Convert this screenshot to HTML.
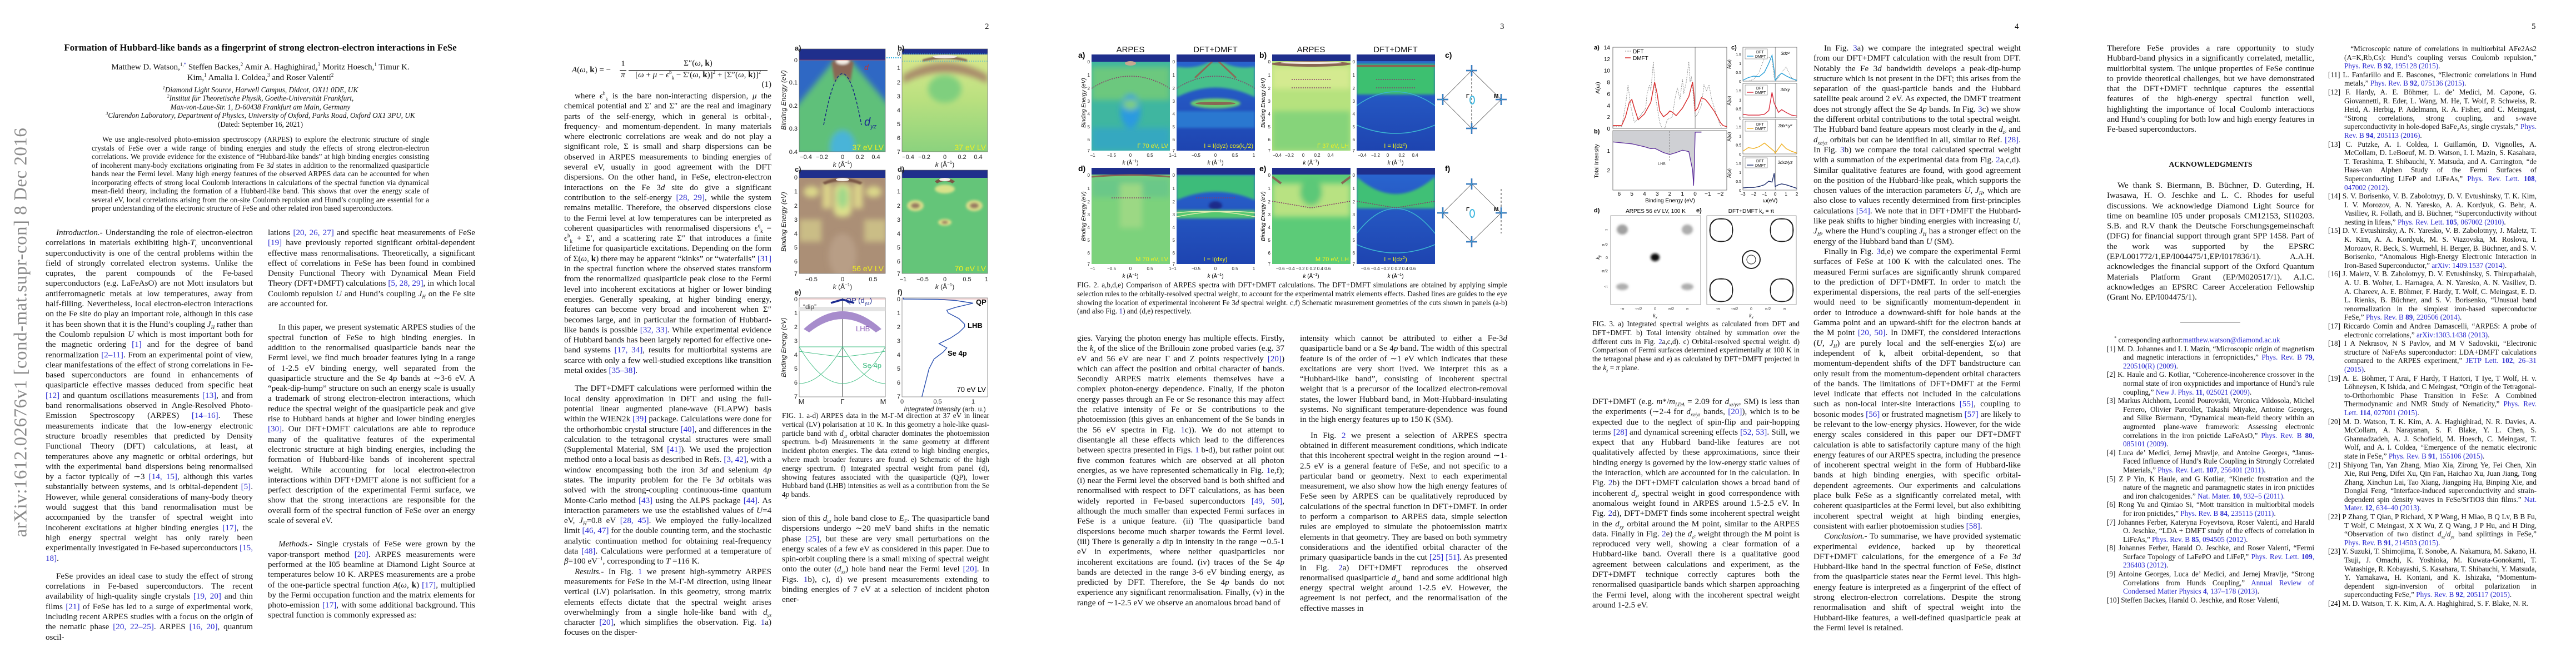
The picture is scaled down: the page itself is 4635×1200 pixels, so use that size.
<!DOCTYPE html>
<html lang="en"><head><meta charset="utf-8">
<style>
html,body{margin:0;padding:0;background:#fff;}
#root{position:relative;width:4635px;height:1200px;overflow:hidden;background:#fff;font-family:"Liberation Serif",serif;color:#111;}
.t{position:absolute;font-size:15.1px;line-height:18.3px;text-align:justify;hyphens:auto;-webkit-hyphens:auto;}
.c{width:373px;}
.t p{margin:0;text-indent:19px;}
.t p.ni{text-indent:0;}
.cap{position:absolute;font-size:13.2px;line-height:15.8px;text-align:justify;hyphens:auto;-webkit-hyphens:auto;}
.ref{position:absolute;width:375px;font-size:13.2px;line-height:15.6px;text-align:justify;hyphens:auto;-webkit-hyphens:auto;}
.ref p{margin:0;padding-left:29px;text-indent:-29px;}
.pn{position:absolute;top:40px;font-size:15px;}
a,.lk{color:#2a2ad0;text-decoration:none;}
i{font-style:italic;}
sub,sup{line-height:0;}
#fig{position:absolute;left:0;top:0;}
</style></head><body>
<div id="root">

<svg id="fig" width="4635" height="1200" font-family="Liberation Sans, sans-serif">
<defs>
<filter id="bl" x="-20%" y="-20%" width="140%" height="140%"><feGaussianBlur stdDeviation="5"/></filter>
<filter id="bl2" x="-20%" y="-20%" width="140%" height="140%"><feGaussianBlur stdDeviation="2"/></filter>
<filter id="bl3" x="-20%" y="-20%" width="140%" height="140%"><feGaussianBlur stdDeviation="1.2"/></filter>
<linearGradient id="gb" x1="0" y1="0" x2="0" y2="1"><stop offset="0" stop-color="#dde98f"/><stop offset="0.5" stop-color="#b9e07f"/><stop offset="1" stop-color="#8bd27e"/></linearGradient>
<linearGradient id="gdft" x1="0" y1="0" x2="0" y2="1"><stop offset="0" stop-color="#2a66d0"/><stop offset="1" stop-color="#1e44b0"/></linearGradient>
<clipPath id="c1a"><rect x="1438" y="88" width="155" height="185"/></clipPath>
<clipPath id="c1b"><rect x="1623" y="88" width="154" height="185"/></clipPath>
<clipPath id="c1c"><rect x="1438" y="306" width="155" height="186"/></clipPath>
<clipPath id="c1d"><rect x="1623" y="306" width="154" height="186"/></clipPath>
<clipPath id="c2a1"><rect x="1964" y="98" width="141" height="173"/></clipPath>
<clipPath id="c2a2"><rect x="2117" y="98" width="141" height="173"/></clipPath>
<clipPath id="c2b1"><rect x="2289" y="98" width="141" height="173"/></clipPath>
<clipPath id="c2b2"><rect x="2441" y="98" width="141" height="173"/></clipPath>
<clipPath id="c2d1"><rect x="1964" y="302" width="141" height="173"/></clipPath>
<clipPath id="c2d2"><rect x="2117" y="302" width="141" height="173"/></clipPath>
<clipPath id="c2e1"><rect x="2289" y="302" width="141" height="173"/></clipPath>
<clipPath id="c2e2"><rect x="2441" y="302" width="141" height="173"/></clipPath>
</defs>

<!-- ============ FIGURE 1 ============ -->
<g>
<g clip-path="url(#c1a)">
<rect x="1438" y="88" width="155" height="185" fill="#2f68c4"/>
<g filter="url(#bl)">
<polygon points="1500,110 1532,110 1600,190 1600,280 1430,280 1430,195" fill="#5fc07a"/>
<ellipse cx="1516" cy="265" rx="22" ry="30" fill="#49b4d8"/>
</g>
<g filter="url(#bl2)">
<path d="M1496,112 Q1516,98 1536,112 L1530,148 Q1516,120 1502,148 Z" fill="#8a6654"/>
<ellipse cx="1516" cy="110" rx="12" ry="6" fill="#f4eee6"/>
</g>
<rect x="1438" y="88" width="155" height="20" fill="#1f2f8c"/>
<line x1="1438" y1="108" x2="1593" y2="108" stroke="#d04040" stroke-width="0.8"/>
<path d="M1482,225 Q1516,40 1550,225" fill="none" stroke="#1a2a80" stroke-width="1.5" stroke-dasharray="5,3"/>
<text x="1555" y="126" font-size="14" fill="#c03030" font-style="italic">d</text>
<text x="1555" y="226" font-size="20" fill="#1a2a90" font-style="italic">d<tspan font-size="11" dy="5">yz</tspan></text>
<text x="1590" y="270" font-size="14" fill="#f0f020" text-anchor="end">37 eV LV</text>
</g>
<rect x="1438" y="88" width="155" height="185" fill="none" stroke="#666" stroke-width="0.7"/>
<g clip-path="url(#c1b)">
<rect x="1623" y="88" width="154" height="185" fill="url(#gb)"/>
<g filter="url(#bl)">
<path d="M1625,135 Q1700,90 1777,135 L1777,150 Q1700,110 1625,150 Z" fill="#a88a6a"/>
<ellipse cx="1700" cy="160" rx="30" ry="25" fill="#7fcf7e"/>
</g>
<rect x="1623" y="88" width="154" height="10" fill="#1f2f8c"/>
<path d="M1660,107 Q1700,95 1740,107 L1740,111 Q1700,101 1660,111 Z" fill="#8a6654" filter="url(#bl3)"/>
<ellipse cx="1700" cy="102" rx="22" ry="3" fill="#f4eee6"/>
<line x1="1623" y1="97" x2="1777" y2="97" stroke="#30b0e0" stroke-dasharray="2,2"/>
<line x1="1623" y1="110" x2="1777" y2="110" stroke="#30b0e0" stroke-dasharray="2,2"/>
<text x="1774" y="270" font-size="14" fill="#f0f020" text-anchor="end">37 eV LV</text>
</g>
<line x1="1595" y1="104" x2="1623" y2="104" stroke="#30b0e0" stroke-width="2" stroke-dasharray="2,2"/>
<rect x="1623" y="88" width="154" height="185" fill="none" stroke="#666" stroke-width="0.7"/>
<g clip-path="url(#c1c)">
<rect x="1438" y="306" width="155" height="186" fill="#ab8f76"/>
<g filter="url(#bl)">
<ellipse cx="1460" cy="345" rx="14" ry="10" fill="#dcd88a"/>
<ellipse cx="1572" cy="345" rx="14" ry="10" fill="#dcd88a"/>
<rect x="1500" y="330" width="32" height="60" rx="12" fill="#dde08c"/>
<ellipse cx="1516" cy="355" rx="10" ry="20" fill="#a0d88a"/>
<rect x="1438" y="395" width="40" height="40" fill="#cabd86"/>
<rect x="1555" y="395" width="40" height="40" fill="#cabd86"/>
<rect x="1480" y="330" width="16" height="45" fill="#dcd48a"/>
<rect x="1536" y="330" width="16" height="45" fill="#dcd48a"/>
<ellipse cx="1516" cy="460" rx="25" ry="40" fill="#b89e86"/>
</g>
<rect x="1438" y="306" width="155" height="14" fill="#1f2f8c"/>
<path d="M1480,328 Q1516,312 1552,328 L1548,332 Q1516,320 1484,332 Z" fill="#7a5846" filter="url(#bl3)"/>
<ellipse cx="1516" cy="323" rx="12" ry="3" fill="#f4eee6"/>
<text x="1590" y="488" font-size="14" fill="#f0f020" text-anchor="end">56 eV LV</text>
</g>
<rect x="1438" y="306" width="155" height="186" fill="none" stroke="#666" stroke-width="0.7"/>
<g clip-path="url(#c1d)">
<rect x="1623" y="306" width="154" height="186" fill="#64c579"/>
<g filter="url(#bl2)">
<ellipse cx="1700" cy="340" rx="18" ry="8" fill="#d8e28a"/>
<ellipse cx="1647" cy="370" rx="15" ry="10" fill="#d8dc8a"/>
<ellipse cx="1753" cy="370" rx="15" ry="10" fill="#d8dc8a"/>
<ellipse cx="1647" cy="370" rx="8" ry="5" fill="#9a7a62"/>
<ellipse cx="1753" cy="370" rx="8" ry="5" fill="#9a7a62"/>
<ellipse cx="1700" cy="400" rx="12" ry="6" fill="#e2e08a"/>
<ellipse cx="1700" cy="400" rx="6" ry="3" fill="#9a7a62"/>
</g>
<rect x="1623" y="306" width="154" height="14" fill="#1f2f8c"/>
<path d="M1682,326 Q1700,314 1718,326 L1714,330 Q1700,322 1686,330 Z" fill="#7a5846"/>
<ellipse cx="1700" cy="323" rx="10" ry="3" fill="#f4eee6"/>
<text x="1774" y="488" font-size="14" fill="#f0f020" text-anchor="end">70 eV LV</text>
</g>
<rect x="1623" y="306" width="154" height="186" fill="none" stroke="#666" stroke-width="0.7"/>
<g>
<rect x="1438" y="536" width="155" height="178" fill="#fff" stroke="#777" stroke-width="0.8"/>
<rect x="1438" y="552" width="155" height="8" fill="#e4e4e4"/>
<line x1="1516" y1="536" x2="1516" y2="714" stroke="#999" stroke-width="2"/>
<line x1="1438" y1="538" x2="1593" y2="538" stroke="#e08080" stroke-width="0.8"/>
<path d="M1495,545 L1516,539 L1537,545" fill="none" stroke="#1a2a90" stroke-width="3.5"/>
<path d="M1446,592 Q1516,528 1586,592 L1576,598 Q1516,550 1456,598 Z" fill="#a78ccc"/>
<g fill="none" stroke="#3cbc80" stroke-width="0.9">
<path d="M1438,624 Q1477,624 1516,624 Q1555,624 1593,624"/>
<path d="M1438,624 Q1477,690 1516,690"/><path d="M1516,690 Q1555,690 1593,624"/>
<path d="M1438,632 Q1477,638 1516,642 Q1555,638 1593,632"/>
<path d="M1438,690 Q1477,690 1516,624 Q1555,690 1593,690"/>
</g>
<text x="1522" y="545" font-size="13" fill="#1a2a90">QP (d<tspan font-size="9" dy="3">yz</tspan><tspan dy="-3">)</tspan></text>
<text x="1445" y="556" font-size="12" fill="#444">“dip”</text>
<text x="1540" y="596" font-size="13" fill="#8a5ab8">LHB</text>
<text x="1552" y="662" font-size="13" fill="#3cbc80">Se 4p</text>
</g>
<g>
<rect x="1623" y="536" width="154" height="178" fill="#fff" stroke="#777" stroke-width="0.8"/>
<line x1="1623" y1="538" x2="1777" y2="538" stroke="#e08080" stroke-width="0.8"/>
<g id="f1f"></g>
<text x="1756" y="548" font-size="13" font-weight="bold">QP</text>
<text x="1741" y="590" font-size="13" font-weight="bold">LHB</text>
<text x="1705" y="640" font-size="13" font-weight="bold">Se 4p</text>
<text x="1774" y="705" font-size="13" text-anchor="end">70 eV LV</text>
</g>
<g font-size="11" fill="#222">
<text x="1430" y="91" font-size="13" font-weight="bold">a)</text>
<text x="1615" y="91" font-size="13" font-weight="bold">b)</text>
<text x="1430" y="309" font-size="13" font-weight="bold">c)</text>
<text x="1615" y="309" font-size="13" font-weight="bold">d)</text>
<text x="1430" y="530" font-size="13" font-weight="bold">e)</text>
<text x="1615" y="530" font-size="13" font-weight="bold">f)</text>
<g text-anchor="end"><text x="1435" y="112">0</text><text x="1435" y="152">0.1</text><text x="1435" y="194">0.2</text><text x="1435" y="235">0.3</text><text x="1435" y="277">0.4</text></g>
<g text-anchor="end"><text x="1620" y="100">0</text><text x="1620" y="126">1</text><text x="1620" y="152">2</text><text x="1620" y="177">3</text><text x="1620" y="202">4</text><text x="1620" y="227">5</text><text x="1620" y="252">6</text><text x="1620" y="277">7</text></g>
<g text-anchor="end"><text x="1435" y="323">0</text><text x="1435" y="348">1</text><text x="1435" y="374">2</text><text x="1435" y="399">3</text><text x="1435" y="424">4</text><text x="1435" y="449">5</text><text x="1435" y="474">6</text><text x="1435" y="496">7</text></g>
<g text-anchor="end"><text x="1620" y="323">0</text><text x="1620" y="348">1</text><text x="1620" y="374">2</text><text x="1620" y="399">3</text><text x="1620" y="424">4</text><text x="1620" y="449">5</text><text x="1620" y="474">6</text><text x="1620" y="496">7</text></g>
<g text-anchor="end"><text x="1435" y="542">0</text><text x="1435" y="567">1</text><text x="1435" y="592">2</text><text x="1435" y="617">3</text><text x="1435" y="642">4</text><text x="1435" y="667">5</text><text x="1435" y="692">6</text><text x="1435" y="717">7</text></g>
<g text-anchor="end"><text x="1620" y="542">0</text><text x="1620" y="567">1</text><text x="1620" y="592">2</text><text x="1620" y="617">3</text><text x="1620" y="642">4</text><text x="1620" y="667">5</text><text x="1620" y="692">6</text><text x="1620" y="717">7</text></g>
<g text-anchor="middle"><text x="1450" y="286">−0.4</text><text x="1479" y="286">−0.2</text><text x="1516" y="286">0</text><text x="1547" y="286">0.2</text><text x="1576" y="286">0.4</text>
<text x="1634" y="286">−0.4</text><text x="1663" y="286">−0.2</text><text x="1700" y="286">0</text><text x="1731" y="286">0.2</text><text x="1760" y="286">0.4</text>
<text x="1460" y="506">−0.5</text><text x="1516" y="506">0</text><text x="1571" y="506">0.5</text>
<text x="1625" y="506">−1</text><text x="1660" y="506">−0.5</text><text x="1700" y="506">0</text><text x="1740" y="506">0.5</text><text x="1775" y="506">1</text>
<text x="1442" y="727" font-size="13">M</text><text x="1516" y="727" font-size="13">Γ</text><text x="1589" y="727" font-size="13">M</text>
<text x="1623" y="726">0</text><text x="1687" y="726">0.5</text><text x="1751" y="726">1</text></g>
<g text-anchor="middle" font-size="12"><text x="1516" y="300"><tspan font-style="italic">k</tspan> (Å<tspan font-size="8" dy="-5">−1</tspan><tspan dy="5">)</tspan></text><text x="1700" y="300"><tspan font-style="italic">k</tspan> (Å<tspan font-size="8" dy="-5">−1</tspan><tspan dy="5">)</tspan></text>
<text x="1516" y="520"><tspan font-style="italic">k</tspan> (Å<tspan font-size="8" dy="-5">−1</tspan><tspan dy="5">)</tspan></text><text x="1700" y="520"><tspan font-style="italic">k</tspan> (Å<tspan font-size="8" dy="-5">−1</tspan><tspan dy="5">)</tspan></text>
<text x="1700" y="740" font-style="italic">Integrated Intensity <tspan font-style="normal">(arb. u.)</tspan></text></g>
<g font-size="12" font-style="italic" text-anchor="middle"><text transform="translate(1414,180) rotate(-90)">Binding Energy (eV)</text><text transform="translate(1414,399) rotate(-90)">Binding Energy (eV)</text><text transform="translate(1414,625) rotate(-90)">Binding Energy (eV)</text></g>
</g>
</g>

<!-- ============ FIGURE 2 ============ -->
<g>
<g font-size="15" text-anchor="middle" fill="#111"><text x="2034" y="94">ARPES</text><text x="2187" y="94">DFT+DMFT</text><text x="2359" y="94">ARPES</text><text x="2511" y="94">DFT+DMFT</text></g>
<g clip-path="url(#c2a1)">
<rect x="1964" y="98" width="141" height="173" fill="#3fb6a0"/>
<g filter="url(#bl)"><rect x="1964" y="120" width="141" height="60" fill="#6cc87e"/><ellipse cx="2034" cy="200" rx="18" ry="30" fill="#2a9ae0"/><ellipse cx="2034" cy="188" rx="14" ry="10" fill="#7ccc84"/><rect x="1964" y="230" width="141" height="41" fill="#35a8c0"/></g>
<rect x="1964" y="98" width="141" height="13" fill="#1f2f8c"/>
<ellipse cx="2034" cy="114" rx="10" ry="4" fill="#c8a890"/>
<path d="M1964,159 Q2034,115 2105,159" fill="none" stroke="#8a3a6a" stroke-width="1.6" stroke-dasharray="2,2"/>
<text x="2102" y="266" font-size="11" fill="#f0f020" text-anchor="end">Γ  70 eV, LV</text>
</g>
<g clip-path="url(#c2a2)">
<rect x="2117" y="98" width="141" height="173" fill="url(#gdft)"/>
<g filter="url(#bl2)"><path d="M2117,120 Q2150,125 2175,112 L2200,112 Q2225,125 2258,120 L2258,175 Q2187,140 2117,175 Z" fill="#46c08a"/><ellipse cx="2187" cy="186" rx="45" ry="9" fill="#6ccc70"/><rect x="2117" y="200" width="141" height="30" fill="#2a78d0"/></g>
<path d="M2150,140 L2182,110" stroke="#8a6a58" stroke-width="3"/><path d="M2224,140 L2192,110" stroke="#8a6a58" stroke-width="3"/>
<ellipse cx="2187" cy="186" rx="36" ry="3" fill="#8a6654"/>
<rect x="2117" y="98" width="141" height="13" fill="#1f2f8c"/>
<path d="M2117,159 Q2187,115 2258,159" fill="none" stroke="#8a3a6a" stroke-width="1.6" stroke-dasharray="2,2"/>
<text x="2255" y="266" font-size="11" fill="#f0f020" text-anchor="end">I = I(dyz) cos(k<tspan font-size="7" dy="2">y</tspan><tspan dy="-2">/2)</tspan></text>
</g>
<g clip-path="url(#c2b1)">
<rect x="2289" y="98" width="141" height="173" fill="#b6e27e"/>
<g filter="url(#bl)"><rect x="2289" y="120" width="141" height="40" fill="#d4ea90"/><rect x="2289" y="200" width="141" height="71" fill="#86d47a"/></g>
<rect x="2289" y="98" width="141" height="12" fill="#1f2f8c"/>
<ellipse cx="2359" cy="115" rx="72" ry="5" fill="#8a6654"/><ellipse cx="2359" cy="113" rx="55" ry="2" fill="#f2ece2"/>
<line x1="2324" y1="143" x2="2394" y2="143" stroke="#8a3a6a" stroke-width="1.6" stroke-dasharray="2,2"/>
<line x1="2324" y1="158" x2="2394" y2="158" stroke="#8a3a6a" stroke-width="1.6" stroke-dasharray="2,2"/>
<text x="2427" y="266" font-size="11" fill="#f0f020" text-anchor="end">Γ  37 eV, LH</text>
</g>
<g clip-path="url(#c2b2)">
<rect x="2441" y="98" width="141" height="173" fill="url(#gdft)"/>
<g filter="url(#bl2)"><rect x="2441" y="115" width="141" height="55" fill="#3cc070"/></g>
<rect x="2441" y="98" width="141" height="12" fill="#1f2f8c"/>
<rect x="2441" y="117" width="141" height="4" fill="#8a6654"/>
<path d="M2441,190 Q2511,140 2582,190" fill="none" stroke="#3cb4d0" stroke-width="1.5"/>
<path d="M2441,225 Q2511,255 2582,225" fill="none" stroke="#3cb4d0" stroke-width="1.5"/>
<line x1="2476" y1="143" x2="2546" y2="143" stroke="#8a3a6a" stroke-width="1.6" stroke-dasharray="2,2"/>
<line x1="2476" y1="158" x2="2546" y2="158" stroke="#8a3a6a" stroke-width="1.6" stroke-dasharray="2,2"/>
<text x="2511" y="266" font-size="11" fill="#f0f020" text-anchor="middle">I = I(dz<tspan font-size="7" dy="-4">2</tspan><tspan dy="4">)</tspan></text>
</g>
<g clip-path="url(#c2d1)">
<rect x="1964" y="302" width="141" height="173" fill="#7cd27c"/>
<g filter="url(#bl)"><rect x="1964" y="320" width="141" height="35" fill="#6ac888"/><rect x="2015" y="330" width="40" height="80" fill="#9cd884"/></g>
<rect x="1964" y="302" width="141" height="12" fill="#1f2f8c"/>
<path d="M1964,318 Q2034,312 2105,318" fill="none" stroke="#8a6654" stroke-width="3"/>
<line x1="2000" y1="356" x2="2070" y2="356" stroke="#8a3a6a" stroke-width="1.6" stroke-dasharray="2,2"/>
<text x="2102" y="470" font-size="11" fill="#f0f020" text-anchor="end">M  70 eV, LV</text>
</g>
<g clip-path="url(#c2d2)">
<rect x="2117" y="302" width="141" height="173" fill="url(#gdft)"/>
<g filter="url(#bl2)"><path d="M2117,315 L2258,315 L2258,360 Q2187,330 2117,360 Z" fill="#3cbc7a"/><rect x="2117" y="378" width="141" height="15" fill="#54c870"/><ellipse cx="2187" cy="370" rx="12" ry="8" fill="#1a2a8a"/></g>
<rect x="2117" y="302" width="141" height="12" fill="#1f2f8c"/>
<path d="M2117,383 Q2187,375 2258,390 M2117,390 Q2187,375 2258,383" fill="none" stroke="#e2ecb0" stroke-width="1.5"/>
<line x1="2152" y1="356" x2="2222" y2="356" stroke="#8a3a6a" stroke-width="1.6" stroke-dasharray="2,2"/>
<text x="2187" y="470" font-size="11" fill="#f0f020" text-anchor="middle">I = I(dxy)</text>
</g>
<g clip-path="url(#c2e1)">
<rect x="2289" y="302" width="141" height="173" fill="#5ccb78"/>
<g filter="url(#bl)"><rect x="2289" y="330" width="141" height="60" fill="#b8e282"/><ellipse cx="2359" cy="345" rx="20" ry="25" fill="#5cc878"/></g>
<rect x="2289" y="302" width="141" height="12" fill="#1f2f8c"/>
<path d="M2289,318 L2305,330 M2430,318 L2414,330" stroke="#8a6654" stroke-width="4"/>
<path d="M2289,362 L2359,374 L2430,362" fill="none" stroke="#8a3a6a" stroke-width="1.6" stroke-dasharray="2,2"/>
<text x="2427" y="470" font-size="11" fill="#f0f020" text-anchor="end">M  70 eV, LH</text>
</g>
<g clip-path="url(#c2e2)">
<rect x="2441" y="302" width="141" height="173" fill="url(#gdft)"/>
<g filter="url(#bl2)"><path d="M2441,318 Q2511,380 2582,318 L2582,375 L2441,375 Z" fill="#40c076"/></g>
<rect x="2441" y="302" width="141" height="12" fill="#1f2f8c"/>
<path d="M2441,420 Q2511,330 2582,420 M2441,440 Q2511,470 2582,440" fill="none" stroke="#3cb4d0" stroke-width="1.5"/>
<path d="M2441,362 L2511,374 L2582,362" fill="none" stroke="#8a3a6a" stroke-width="1.6" stroke-dasharray="2,2"/>
<text x="2511" y="470" font-size="11" fill="#f0f020" text-anchor="middle">I = I(dz<tspan font-size="7" dy="-4">2</tspan><tspan dy="4">)</tspan></text>
</g>
<g font-size="8" fill="#222" text-anchor="end">
<text x="1961" y="114">0</text><text x="1961" y="138">1</text><text x="1961" y="162">2</text><text x="1961" y="185">3</text><text x="1961" y="208">4</text><text x="1961" y="231">5</text><text x="1961" y="254">6</text><text x="1961" y="274">7</text>
<text x="2114" y="114">0</text><text x="2114" y="138">1</text><text x="2114" y="162">2</text><text x="2114" y="185">3</text><text x="2114" y="208">4</text><text x="2114" y="231">5</text><text x="2114" y="254">6</text><text x="2114" y="274">7</text>
<text x="2286" y="114">0</text><text x="2286" y="138">1</text><text x="2286" y="162">2</text><text x="2286" y="185">3</text><text x="2286" y="208">4</text><text x="2286" y="231">5</text><text x="2286" y="254">6</text><text x="2286" y="274">7</text>
<text x="2438" y="114">0</text><text x="2438" y="138">1</text><text x="2438" y="162">2</text><text x="2438" y="185">3</text><text x="2438" y="208">4</text><text x="2438" y="231">5</text><text x="2438" y="254">6</text><text x="2438" y="274">7</text>
<text x="1961" y="318">0</text><text x="1961" y="342">1</text><text x="1961" y="366">2</text><text x="1961" y="389">3</text><text x="1961" y="412">4</text><text x="1961" y="435">5</text><text x="1961" y="458">6</text><text x="1961" y="478">7</text>
<text x="2114" y="318">0</text><text x="2114" y="342">1</text><text x="2114" y="366">2</text><text x="2114" y="389">3</text><text x="2114" y="412">4</text><text x="2114" y="435">5</text><text x="2114" y="458">6</text><text x="2114" y="478">7</text>
<text x="2286" y="318">0</text><text x="2286" y="342">1</text><text x="2286" y="366">2</text><text x="2286" y="389">3</text><text x="2286" y="412">4</text><text x="2286" y="435">5</text><text x="2286" y="458">6</text><text x="2286" y="478">7</text>
<text x="2438" y="318">0</text><text x="2438" y="342">1</text><text x="2438" y="366">2</text><text x="2438" y="389">3</text><text x="2438" y="412">4</text><text x="2438" y="435">5</text><text x="2438" y="458">6</text><text x="2438" y="478">7</text>
</g>
<g font-size="8" fill="#222" text-anchor="middle">
<text x="1966" y="282">−1</text><text x="2000" y="282">−0.5</text><text x="2034" y="282">0</text><text x="2069" y="282">0.5</text><text x="2110" y="282">1−1</text><text x="2152" y="282">−0.5</text><text x="2187" y="282">0</text><text x="2222" y="282">0.5</text><text x="2256" y="282">1</text>
<text x="2298" y="282">−0.4</text><text x="2320" y="282">−0.2</text><text x="2345" y="282">0</text><text x="2370" y="282">0.2</text><text x="2394" y="282">0.4</text><text x="2451" y="282">−0.4</text><text x="2475" y="282">−0.2</text><text x="2497" y="282">0</text><text x="2522" y="282">0.2</text><text x="2546" y="282">0.4</text>
<text x="1966" y="486">−1</text><text x="2000" y="486">−0.5</text><text x="2034" y="486">0</text><text x="2069" y="486">0.5</text><text x="2110" y="486">1−1</text><text x="2152" y="486">−0.5</text><text x="2187" y="486">0</text><text x="2222" y="486">0.5</text><text x="2256" y="486">1</text>
<text x="2345" y="486">−0.6 −0.4 −0.2   0   0.2  0.4  0.6</text><text x="2498" y="486">−0.6 −0.4 −0.2   0   0.2  0.4  0.6</text>
</g>
<g font-size="10" text-anchor="middle"><text x="2034" y="296"><tspan font-style="italic">k</tspan> (Å<tspan font-size="7" dy="-4">−1</tspan><tspan dy="4">)</tspan></text><text x="2187" y="296"><tspan font-style="italic">k</tspan> (Å<tspan font-size="7" dy="-4">−1</tspan><tspan dy="4">)</tspan></text><text x="2359" y="296"><tspan font-style="italic">k</tspan> (Å<tspan font-size="7" dy="-4">−1</tspan><tspan dy="4">)</tspan></text><text x="2511" y="296"><tspan font-style="italic">k</tspan> (Å<tspan font-size="7" dy="-4">−1</tspan><tspan dy="4">)</tspan></text>
<text x="2034" y="500"><tspan font-style="italic">k</tspan> (Å<tspan font-size="7" dy="-4">−1</tspan><tspan dy="4">)</tspan></text><text x="2187" y="500"><tspan font-style="italic">k</tspan> (Å<tspan font-size="7" dy="-4">−1</tspan><tspan dy="4">)</tspan></text><text x="2359" y="500"><tspan font-style="italic">k</tspan> (Å<tspan font-size="7" dy="-4">−1</tspan><tspan dy="4">)</tspan></text><text x="2511" y="500"><tspan font-style="italic">k</tspan> (Å<tspan font-size="7" dy="-4">−1</tspan><tspan dy="4">)</tspan></text></g>
<g font-size="10" font-style="italic" text-anchor="middle"><text transform="translate(1953,185) rotate(-90)">Binding Energy  (eV)</text><text transform="translate(2276,185) rotate(-90)">Binding Energy  (eV)</text><text transform="translate(1953,389) rotate(-90)">Binding Energy  (eV)</text><text transform="translate(2276,389) rotate(-90)">Binding Energy  (eV)</text></g>
<g font-size="14" font-weight="bold"><text x="1940" y="104">a)</text><text x="2266" y="104">b)</text><text x="2600" y="104">c)</text><text x="1940" y="308">d)</text><text x="2266" y="308">e)</text><text x="2600" y="308">f)</text></g>
<g fill="none">
<polygon points="2648,127 2701,179 2648,231 2596,179" stroke="#555" stroke-width="0.8"/>
<line x1="2648" y1="127" x2="2648" y2="231" stroke="#333" stroke-dasharray="4,3"/>
<g stroke="#1a3a9a" stroke-width="2.5"><path d="M2648,117v20M2638,127h20M2648,221v20M2638,231h20M2596,169v20M2586,179h20M2701,169v20M2691,179h20"/></g>
<g stroke="#50c8e8" stroke-width="1"><path d="M2648,117v20M2638,127h20M2648,221v20M2638,231h20M2596,169v20M2586,179h20M2701,169v20M2691,179h20"/></g>
<ellipse cx="2649" cy="180" rx="4" ry="7" stroke="#40b8e0" stroke-width="2"/>
</g>
<g fill="none">
<polygon points="2648,331 2701,383 2648,435 2596,383" stroke="#555" stroke-width="0.8"/>
<line x1="2701" y1="340" x2="2701" y2="420" stroke="#333" stroke-dasharray="4,3"/>
<g stroke="#1a3a9a" stroke-width="2.5"><path d="M2648,321v20M2638,331h20M2648,425v20M2638,435h20M2596,373v20M2586,383h20M2701,373v20M2691,383h20"/></g>
<g stroke="#50c8e8" stroke-width="1"><path d="M2648,321v20M2638,331h20M2648,425v20M2638,435h20M2596,373v20M2586,383h20M2701,373v20M2691,383h20"/></g>
<ellipse cx="2649" cy="384" rx="4" ry="7" stroke="#40b8e0" stroke-width="2"/>
</g>
<g font-size="10" font-weight="bold"><text x="2638" y="176">Γ</text><text x="2688" y="176">M</text><text x="2638" y="380">Γ</text><text x="2688" y="380">M</text></g>
</g>

<!-- ============ FIGURE 3 ============ -->
<g>
<rect x="2902" y="85" width="205" height="146" fill="#fff" stroke="#555" stroke-width="0.8"/>
<rect x="2902" y="235" width="205" height="107" fill="#fff" stroke="#555" stroke-width="0.8"/>
<g id="f3a"></g><g id="f3b"></g><g id="f3c"></g>
<g font-size="11" font-weight="bold"><text x="2868" y="89">a)</text><text x="2868" y="240">b)</text><text x="3115" y="89">c)</text><text x="2868" y="382">d)</text><text x="3052" y="382">e)</text></g>
<line x1="2924" y1="92" x2="2934" y2="92" stroke="#777" stroke-dasharray="1.5,1.5"/><text x="2938" y="96" font-size="10">DFT</text>
<line x1="2924" y1="104" x2="2934" y2="104" stroke="#d83030" stroke-width="1.5"/><text x="2938" y="108" font-size="10">DMFT</text>
<text x="2990" y="297" font-size="7" fill="#444" text-anchor="middle">LHB</text>
<text x="3005" y="364" font-size="10" text-anchor="middle">Binding Energy (eV)</text>
<text x="3185" y="364" font-size="10" text-anchor="middle">ω(eV)</text>
<text transform="translate(2878,158) rotate(-90)" font-size="10" text-anchor="middle">A(ω)</text>
<text transform="translate(2876,290) rotate(-90)" font-size="10" text-anchor="middle">Total Intensity</text>
<text x="2979" y="383" font-size="10" text-anchor="middle">ARPES 56 eV LV, 100 K</text>
<text x="3151" y="383" font-size="10" text-anchor="middle">DFT+DMFT  k<tspan font-size="7" dy="2">z</tspan><tspan dy="-2"> = π</tspan></text>
<rect x="2898" y="388" width="162" height="160" fill="#fff" stroke="#777" stroke-width="0.7"/>
<g filter="url(#bl2)" fill="#777"><ellipse cx="2919" cy="413" rx="10" ry="9" opacity="0.7"/><ellipse cx="3036" cy="413" rx="10" ry="9" opacity="0.6"/><ellipse cx="2919" cy="516" rx="11" ry="6" opacity="0.6"/><ellipse cx="3036" cy="516" rx="11" ry="6" opacity="0.6"/><ellipse cx="2978" cy="463" rx="8" ry="7" fill="#111"/></g>
<g font-size="7" fill="#444" text-anchor="end"><text x="2893" y="416">π</text><text x="2893" y="443">π/2</text><text x="2893" y="466">0</text><text x="2893" y="490">-π/2</text><text x="2893" y="518">-π</text></g>
<text transform="translate(2878,463) rotate(-90)" font-size="9" font-style="italic" text-anchor="middle">k<tspan font-size="6" dy="2">y</tspan></text>
<g font-size="7" fill="#444" text-anchor="middle"><text x="2919" y="558">-π</text><text x="2948" y="558">-π/2</text><text x="2978" y="558">0</text><text x="3007" y="558">π/2</text><text x="3036" y="558">π</text><text x="3091" y="558">-π</text><text x="3121" y="558">-π/2</text><text x="3151" y="558">0</text><text x="3181" y="558">π/2</text><text x="3211" y="558">π</text></g>
<text x="2978" y="571" font-size="9" font-style="italic" text-anchor="middle">k<tspan font-size="6" dy="2">x</tspan></text>
<text x="3151" y="571" font-size="9" font-style="italic" text-anchor="middle">k<tspan font-size="6" dy="2">x</tspan></text>
<rect x="3071" y="388" width="161" height="160" fill="#fff" stroke="#777" stroke-width="0.7"/>
<g fill="none" stroke="#222" stroke-width="1.6">
<rect x="3077" y="394" width="40" height="40" rx="15"/><circle cx="3097" cy="414" r="21" stroke-width="1"/>
<rect x="3186" y="394" width="40" height="40" rx="15"/><circle cx="3206" cy="414" r="21" stroke-width="1"/>
<rect x="3077" y="502" width="40" height="40" rx="15"/><circle cx="3097" cy="522" r="21" stroke-width="1"/>
<rect x="3186" y="502" width="40" height="40" rx="15"/><circle cx="3206" cy="522" r="21" stroke-width="1"/>
<circle cx="3151" cy="467" r="16" stroke-width="2"/><circle cx="3151" cy="467" r="8" stroke-width="1"/>
</g>
</g>
</svg>

<!-- ================= PAGE 1 ================= -->
<div style="position:absolute;left:38px;top:598px;width:0;height:0;">
<div style="position:absolute;transform:translate(-50%,-50%) rotate(-90deg);white-space:nowrap;font-size:33px;color:#8a8a8a;letter-spacing:0.5px;">arXiv:1612.02676v1  [cond-mat.supr-con]  8 Dec 2016</div></div>
<div style="position:absolute;left:82px;width:773px;top:76px;text-align:center;font-weight:bold;font-size:17px;">Formation of Hubbard-like bands as a fingerprint of strong electron-electron interactions in FeSe</div>
<div style="position:absolute;left:200px;width:537px;top:112px;text-align:center;font-size:15px;line-height:19px;">Matthew D. Watson,<sup style="font-size:9px">1,<span class="lk">*</span></sup> Steffen Backes,<sup style="font-size:9px">2</sup> Amir A. Haghighirad,<sup style="font-size:9px">3</sup> Moritz Hoesch,<sup style="font-size:9px">1</sup> Timur K. Kim,<sup style="font-size:9px">1</sup> Amalia I. Coldea,<sup style="font-size:9px">3</sup> and Roser Valentí<sup style="font-size:9px">2</sup></div>
<div style="position:absolute;left:82px;width:773px;top:154px;text-align:center;font-size:13.2px;line-height:15.4px;font-style:italic;"><sup style="font-size:8px">1</sup>Diamond Light Source, Harwell Campus, Didcot, OX11 0DE, UK<br><sup style="font-size:8px">2</sup>Institut für Theoretische Physik, Goethe-Universität Frankfurt,<br>Max-von-Laue-Str. 1, D-60438 Frankfurt am Main, Germany<br><sup style="font-size:8px">3</sup>Clarendon Laboratory, Department of Physics, University of Oxford, Parks Road, Oxford OX1 3PU, UK<br><span style="font-style:normal">(Dated: September 16, 2021)</span></div>
<div class="cap" style="left:165px;width:607px;top:243px;font-size:13.3px;line-height:15.5px;text-indent:19px;">We use angle-resolved photo-emission spectroscopy (ARPES) to explore the electronic structure of single crystals of FeSe over a wide range of binding energies and study the effects of strong electron-electron correlations. We provide evidence for the existence of “Hubbard-like bands” at high binding energies consisting of incoherent many-body excitations originating from Fe 3<i>d</i> states in addition to the renormalized quasiparticle bands near the Fermi level. Many high energy features of the observed ARPES data can be accounted for when incorporating effects of strong local Coulomb interactions in calculations of the spectral function via dynamical mean-field theory, including the formation of a Hubbard-like band. This shows that over the energy scale of several eV, local correlations arising from the on-site Coulomb repulsion and Hund’s coupling are essential for a proper understanding of the electronic structure of FeSe and other related iron based superconductors.</div>

<div class="t c" style="left:82px;top:410px;">
<p><i>Introduction.-</i> Understanding the role of electron-electron correlations in materials exhibiting high-<i>T<sub style="font-size:9px">c</sub></i> unconventional superconductivity is one of the central problems within the field of strongly correlated electron systems. Unlike the cuprates, the parent compounds of the Fe-based superconductors (e.g. LaFeAsO) are not Mott insulators but antiferromagnetic metals at low temperatures, away from half-filling. Nevertheless, local electron-electron interactions on the Fe site do play an important role, although in this case it has been shown that it is the Hund’s coupling <i>J<sub style="font-size:9px">H</sub></i> rather than the Coulomb repulsion <i>U</i> which is most important both for the magnetic ordering <a>[1]</a> and for the degree of band renormalization <a>[2–11]</a>. From an experimental point of view, clear manifestations of the effect of strong correlations in Fe-based superconductors are found in enhancements of quasiparticle effective masses deduced from specific heat <a>[12]</a> and quantum oscillations measurements <a>[13]</a>, and from band renormalisations observed in Angle-Resolved Photo-Emission Spectroscopy (ARPES) <a>[14–16]</a>. These measurements indicate that the low-energy electronic structure broadly resembles that predicted by Density Functional Theory (DFT) calculations, at least, at temperatures above any magnetic or orbital orderings, but with the experimental band dispersions being renormalised by a factor typically of ∼3 <a>[14, 15]</a>, although this varies substantially between systems, and is orbital-dependent <a>[5]</a>. However, while general considerations of many-body theory would suggest that this band renormalisation must be accompanied by the transfer of spectral weight into incoherent excitations at higher binding energies <a>[17]</a>, the high energy spectral weight has only rarely been experimentally investigated in Fe-based superconductors <a>[15, 18]</a>.</p>
<p style="margin-top:14px;">FeSe provides an ideal case to study the effect of strong correlations in Fe-based superconductors. The recent availability of high-quality single crystals <a>[19, 20]</a> and thin films <a>[21]</a> of FeSe has led to a surge of experimental work, including recent ARPES studies with a focus on the origin of the nematic phase <a>[20, 22–25]</a>. ARPES <a>[16, 20]</a>, quantum oscil-</p>
</div>
<div class="t c" style="left:482px;top:410px;">
<p class="ni">lations <a>[20, 26, 27]</a> and specific heat measurements of FeSe <a>[19]</a> have previously reported significant orbital-dependent effective mass renormalisations. Theoretically, a significant effect of correlations in FeSe has been found in combined Density Functional Theory with Dynamical Mean Field Theory (DFT+DMFT) calculations <a>[5, 28, 29]</a>, in which local Coulomb repulsion <i>U</i> and Hund’s coupling <i>J<sub style="font-size:9px">H</sub></i> on the Fe site are accounted for.</p>
<p style="margin-top:24px;">In this paper, we present systematic ARPES studies of the spectral function of FeSe to high binding energies. In addition to the renormalised quasiparticle bands near the Fermi level, we find much broader features lying in a range of 1-2.5 eV binding energy, well separated from the quasiparticle structure and the Se 4p bands at ∼3-6 eV. A “peak-dip-hump” structure on such an energy scale is usually a trademark of strong electron-electron interactions, which reduce the spectral weight of the quasiparticle peak and give rise to Hubbard bands at higher and lower binding energies <a>[30]</a>. Our DFT+DMFT calculations are able to reproduce many of the qualitative features of the experimental electronic structure at high binding energies, including the formation of Hubbard-like bands of incoherent spectral weight. While accounting for local electron-electron interactions within DFT+DMFT alone is not sufficient for a perfect description of the experimental Fermi surface, we show that the strong interactions are responsible for the overall form of the spectral function of FeSe over an energy scale of several eV.</p>
<p style="margin-top:24px;"><i>Methods.-</i> Single crystals of FeSe were grown by the vapor-transport method <a>[20]</a>. ARPES measurements were performed at the I05 beamline at Diamond Light Source at temperatures below 10 K. ARPES measurements are a probe of the one-particle spectral function <i>A</i>(<i>ω</i>, <b>k</b>) <a>[17]</a>, multiplied by the Fermi occupation function and the matrix elements for photo-emission <a>[17]</a>, with some additional background. This spectral function is commonly expressed as:</p>
</div>

<!-- ================= PAGE 2 ================= -->
<div class="pn" style="left:1772px;">2</div>
<div style="position:absolute;left:1015px;top:104px;width:373px;height:50px;font-size:15px;">
<span style="position:absolute;left:14px;top:14px;"><i>A</i>(<i>ω</i>, <b>k</b>) = −</span>
<span style="position:absolute;left:100px;top:3px;text-align:center;width:12px;">1</span><span style="position:absolute;left:100px;top:22px;width:12px;border-top:1px solid #111;text-align:center;"><i>π</i></span>
<span style="position:absolute;left:116px;top:2px;width:250px;text-align:center;">Σ″(<i>ω</i>, <b>k</b>)</span>
<span style="position:absolute;left:116px;top:22px;width:250px;border-top:1px solid #111;text-align:center;">[<i>ω</i> + <i>μ</i> − <i>ϵ</i><sup style="font-size:9px">b</sup><sub style="font-size:9px">k</sub> − Σ′(<i>ω</i>, <b>k</b>)]<sup style="font-size:9px">2</sup> + [Σ″(<i>ω</i>, <b>k</b>)]<sup style="font-size:9px">2</sup></span>
<span style="position:absolute;right:0;top:40px;">(1)</span></div>
<div class="t c" style="left:1015px;top:164px;">
<p>where <i>ϵ</i><sup style="font-size:9px">b</sup><sub style="font-size:9px">k</sub> is the bare non-interacting dispersion, <i>μ</i> the chemical potential and Σ′ and Σ″ are the real and imaginary parts of the self-energy, which in general is orbital-, frequency- and momentum-dependent. In many materials where electronic correlations are weak and do not play a significant role, Σ is small and sharp dispersions can be observed in ARPES measurements to binding energies of several eV, usually in good agreement with the DFT dispersions. On the other hand, in FeSe, electron-electron interactions on the Fe 3<i>d</i> site do give a significant contribution to the self-energy <a>[28, 29]</a>, while the system remains metallic. Therefore, the observed dispersions close to the Fermi level at low temperatures can be interpreted as coherent quasiparticles with renormalised dispersions <i>ϵ</i><sup style="font-size:9px">q</sup><sub style="font-size:9px">k</sub> = <i>ϵ</i><sup style="font-size:9px">b</sup><sub style="font-size:9px">k</sub> + Σ′, and a scattering rate Σ″ that introduces a finite lifetime for quasiparticle excitations. Depending on the form of Σ(<i>ω</i>, <b>k</b>) there may be apparent “kinks” or “waterfalls” <a>[31]</a> in the spectral function where the observed states transform from the renormalized quasiparticle peak close to the Fermi level into incoherent excitations at higher or lower binding energies. Generally speaking, at higher binding energy, features can become very broad and incoherent when Σ″ becomes large, and in particular the formation of Hubbard-like bands is possible <a>[32, 33]</a>. While experimental evidence of Hubbard bands has been largely reported for effective one-band systems <a>[17, 34]</a>, results for multiorbital systems are scarce with only a few well-studied exceptions like transition metal oxides <a>[35–38]</a>.</p>
<p style="margin-top:14px;">The DFT+DMFT calculations were performed within the local density approximation in DFT and using the full-potential linear augmented plane-wave (FLAPW) basis within the WIEN2k <a>[39]</a> package. Calculations were done for the orthorhombic crystal structure <a>[40]</a>, and differences in the calculation to the tetragonal crystal structures were small (Supplemental Material, SM <a>[41]</a>). We used the projection method onto a local basis as described in Refs. <a>[3, 42]</a>, with a window encompassing both the iron 3<i>d</i> and selenium 4<i>p</i> states. The impurity problem for the Fe 3<i>d</i> orbitals was solved with the strong-coupling continuous-time quantum Monte-Carlo method <a>[43]</a> using the ALPS package <a>[44]</a>. As interaction parameters we use the established values of <i>U</i>=4 eV, <i>J<sub style="font-size:9px">H</sub></i>=0.8 eV <a>[28, 45]</a>. We employed the fully-localized limit <a>[46, 47]</a> for the double counting term, and the stochastic analytic continuation method for obtaining real-frequency data <a>[48]</a>. Calculations were performed at a temperature of <i>β</i>=100 eV<sup style="font-size:9px">−1</sup>, corresponding to <i>T</i> =116 K.</p>
<p><i>Results.-</i> In Fig. <a>1</a> we present high-symmetry ARPES measurements for FeSe in the M-Γ-M direction, using linear vertical (LV) polarisation. In this geometry, strong matrix elements effects dictate that the spectral weight arises overwhelmingly from a single hole-like band with <i>d<sub style="font-size:9px">yz</sub></i> character <a>[20]</a>, which simplifies the observation. Fig. <a>1</a>a) focuses on the disper-</p>
</div>
<div class="cap" style="left:1407px;width:373px;top:740px;">FIG. 1. a-d) ARPES data in the M-Γ-M direction at 37 eV in linear vertical (LV) polarisation at 10 K. In this geometry a hole-like quasi-particle band with <i>d<sub style="font-size:8px">yz</sub></i> orbital character dominates the photoemission spectrum. b-d) Measurements in the same geometry at different incident photon energies. The data extend to high binding energies, where much broader features are found. e) Schematic of the high energy spectrum. f) Integrated spectral weight from panel (d), showing features associated with the quasiparticle (QP), lower Hubbard band (LHB) intensities as well as a contribution from the Se 4<i>p</i> bands.</div>
<div class="t c" style="left:1407px;top:924px;">sion of this <i>d<sub style="font-size:9px">yz</sub></i> hole band close to <i>E<sub style="font-size:9px">F</sub></i>. The quasiparticle band dispersions undergo ∼20 meV band shifts in the nematic phase <a>[25]</a>, but these are very small perturbations on the energy scales of a few eV as considered in this paper. Due to spin-orbit coupling there is a small mixing of spectral weight onto the outer (<i>d<sub style="font-size:9px">xz</sub></i>) hole band near the Fermi level <a>[20]</a>. In Figs. <a>1</a>b), c), d) we present measurements extending to binding energies of 7 eV at a selection of incident photon ener-</div>

<!-- ================= PAGE 3 ================= -->
<div class="pn" style="left:2699px;">3</div>
<div class="cap" style="left:1938px;width:774px;top:505px;">FIG. 2. a,b,d,e) Comparison of ARPES spectra with DFT+DMFT calculations. The DFT+DMFT simulations are obtained by applying simple selection rules to the orbitally-resolved spectral weight, to account for the experimental matrix elements effects. Dashed lines are guides to the eye showing the location of experimental incoherent Fe 3<i>d</i> spectral weight. c,f) Schematic measurement geometries of the cuts shown in panels (a-b) (and also Fig. <a>1</a>) and (d,e) respectively.</div>
<div class="t c" style="left:1938px;top:600px;">gies. Varying the photon energy has multiple effects. Firstly, the <i>k<sub style="font-size:9px">z</sub></i> of the slice of the Brillouin zone probed varies (e.g. 37 eV and 56 eV are near Γ and Z points respectively <a>[20]</a>) which can affect the position and orbital character of bands. Secondly ARPES matrix elements themselves have a complex photon-energy dependence. Finally, if the photon energy passes through an Fe or Se resonance this may affect the relative intensity of Fe or Se contributions to the photoemission (this gives an enhancement of the Se bands in the 56 eV spectra in Fig. <a>1</a>c)). We do not attempt to disentangle all these effects which lead to the differences between spectra presented in Figs. <a>1</a> b-d), but rather point out five common features which are observed at all photon energies, as we have represented schematically in Fig. <a>1</a>e,f); (i) near the Fermi level the observed band is both shifted and renormalised with respect to DFT calculations, as has been widely reported in Fe-based superconductors <a>[49, 50]</a>, although the much smaller than expected Fermi surfaces in FeSe is a unique feature. (ii) The quasiparticle band dispersions become much sharper towards the Fermi level. (iii) There is generally a dip in intensity in the range ∼0.5-1 eV in experiments, where neither quasiparticles nor incoherent excitations are found. (iv) traces of the Se 4<i>p</i> bands are detected in the range 3-6 eV binding energy, as predicted by DFT. Therefore, the Se 4<i>p</i> bands do not experience any significant renormalisation. Finally, (v) in the range of ∼1-2.5 eV we observe an anomalous broad band of</div>
<div class="t c" style="left:2339px;top:600px;">
<p class="ni">intensity which cannot be attributed to either a Fe-3<i>d</i> quasiparticle band or a Se 4<i>p</i> band. The width of this spectral feature is of the order of ∼1 eV which indicates that these excitations are very short lived. We interpret this as a “Hubbard-like band”, consisting of incoherent spectral weight that is a precursor of the localized electron-removal states, the lower Hubbard band, in Mott-Hubbard-insulating systems. No significant temperature-dependence was found in the high energy features up to 150 K (SM).</p>
<p style="margin-top:10px;">In Fig. <a>2</a> we present a selection of ARPES spectra obtained in different measurement conditions, which indicate that this incoherent spectral weight in the region around ∼1-2.5 eV is a general feature of FeSe, and not specific to a particular band or geometry. Next to each experimental measurement, we also show how the high energy features of FeSe seen by ARPES can be qualitatively reproduced by calculations of the spectral function in DFT+DMFT. In order to perform a comparison to ARPES data, simple selection rules are employed to simulate the photoemission matrix elements in that geometry. They are based on both symmetry considerations and the identified orbital character of the primary quasiparticle bands in the cut <a>[25]</a> <a>[51]</a>. As presented in Fig. <a>2</a>a) DFT+DMFT reproduces the observed renormalised quasiparticle <i>d<sub style="font-size:9px">yz</sub></i> band and some additional high energy spectral weight around 1-2.5 eV. However, the agreement is not perfect, and the renormalisation of the effective masses in</p>
</div>

<!-- ================= PAGE 4 ================= -->
<div class="pn" style="left:3625px;">4</div>
<div class="cap" style="left:2865px;width:373px;top:575px;">FIG. 3. a) Integrated spectral weights as calculated from DFT and DFT+DMFT. b) Total intensity obtained by summation over the different cuts in Fig. <a>2</a>a,c,d). c) Orbital-resolved spectral weight. d) Comparison of Fermi surfaces determined experimentally at 100 K in the tetragonal phase and e) as calculated by DFT+DMFT projected in the <i>k<sub style="font-size:8px">z</sub></i> = <i>π</i> plane.</div>
<div class="t c" style="left:2865px;top:714px;">DFT+DMFT (e.g. <i>m</i>*/<i>m<sub style="font-size:9px">LDA</sub></i> = 2.09 for <i>d<sub style="font-size:9px">xz/yz</sub></i>, SM) is less than the experiments (∼2-4 for <i>d<sub style="font-size:9px">xz/yz</sub></i> bands, <a>[20]</a>), which is to be expected due to the neglect of spin-flip and pair-hopping terms <a>[28]</a> and dynamical screening effects <a>[52, 53]</a>. Still, we expect that any Hubbard band-like features are not qualitatively affected by these approximations, since their binding energy is governed by the low-energy static values of the interaction, which are accounted for in the calculation. In Fig. <a>2</a>b) the DFT+DMFT calculation shows a broad band of incoherent <i>d<sub style="font-size:9px">z²</sub></i> spectral weight in good correspondence with anomalous weight found in ARPES around 1.5-2.5 eV. In Fig. <a>2</a>d), DFT+DMFT finds some incoherent spectral weight in the <i>d<sub style="font-size:9px">xy</sub></i> orbital around the M point, similar to the ARPES data. Finally in Fig. <a>2</a>e) the <i>d<sub style="font-size:9px">z²</sub></i> weight through the M point is reproduced very well, showing a clear formation of a Hubbard-like band. Overall there is a qualitative good agreement between calculations and experiment, as the DFT+DMFT technique correctly captures both the renormalised quasiparticle bands which sharpen approaching the Fermi level, along with the incoherent spectral weight around 1-2.5 eV.</div>
<div class="t c" style="left:3263px;top:78px;">
<p>In Fig. <a>3</a>a) we compare the integrated spectral weight from our DFT+DMFT calculation with the result from DFT. Notably the Fe 3<i>d</i> bandwidth develops a peak-dip-hump structure which is not present in the DFT; this arises from the separation of the quasi-particle bands and the Hubbard satellite peak around 2 eV. As expected, the DMFT treatment does not strongly affect the Se 4<i>p</i> bands. In Fig. <a>3</a>c) we show the different orbital contributions to the total spectral weight. The Hubbard band feature appears most clearly in the <i>d<sub style="font-size:9px">z²</sub></i> and <i>d<sub style="font-size:9px">xz/yz</sub></i> orbitals but can be identified in all, similar to Ref. <a>[28]</a>. In Fig. <a>3</a>b) we compare the total calculated spectral weight with a summation of the experimental data from Fig. <a>2</a>a,c,d). Similar qualitative features are found, with good agreement on the position of the Hubbard-like peak, which supports the chosen values of the interaction parameters <i>U</i>, <i>J<sub style="font-size:9px">H</sub></i>, which are also close to values recently determined from first-principles calculations <a>[54]</a>. We note that in DFT+DMFT the Hubbard-like peak shifts to higher binding energies with increasing <i>U</i>, <i>J<sub style="font-size:9px">H</sub></i>, where the Hund’s coupling <i>J<sub style="font-size:9px">H</sub></i> has a stronger effect on the energy of the Hubbard band than <i>U</i> (SM).</p>
<p>Finally in Fig. <a>3</a>d,e) we compare the experimental Fermi surfaces of FeSe at 100 K with the calculated ones. The measured Fermi surfaces are significantly shrunk compared to the prediction of DFT+DMFT. In order to match the experimental dispersions, the real parts of the self-energies would need to be significantly momentum-dependent in order to introduce a downward-shift for hole bands at the Gamma point and an upward-shift for the electron bands at the M point <a>[20, 50]</a>. In DMFT, the considered interactions (<i>U</i>, <i>J<sub style="font-size:9px">H</sub></i>) are purely local and the self-energies Σ(<i>ω</i>) are independent of k, albeit orbital-dependent, so that momentum-dependent shifts of the DFT bandstructure can only result from the momentum-dependent orbital characters of the bands. The limitations of DFT+DMFT at the Fermi level indicate that effects not included in the calculations such as non-local inter-site interactions <a>[55]</a>, coupling to bosonic modes <a>[56]</a> or frustrated magnetism <a>[57]</a> are likely to be relevant to the low-energy physics. However, for the wide energy scales considered in this paper our DFT+DMFT calculation is able to satisfactorily capture many of the high energy features of our ARPES spectra, including the presence of incoherent spectral weight in the form of Hubbard-like bands at high binding energies, with specific orbital-dependent agreements. Our experiments and calculations place bulk FeSe as a significantly correlated metal, with coherent quasiparticles at the Fermi level, but also exhibiting incoherent spectral weight at high binding energies, consistent with earlier photoemission studies <a>[58]</a>.</p>
<p><i>Conclusion.-</i> To summarise, we have provided systematic experimental evidence, backed up by theoretical DFT+DMFT calculations, for the emergence of a Fe 3<i>d</i> Hubbard-like band in the spectral function of FeSe, distinct from the quasiparticle states near the Fermi level. This high-energy feature is interpreted as a fingerprint of the effect of strong electron-electron correlations. Despite the strong renormalisation and shift of spectral weight into the Hubbard-like features, a well-defined quasiparticle peak at the Fermi level is retained.</p>
</div>

<!-- ================= PAGE 5 ================= -->
<div class="pn" style="left:4555px;">5</div>
<div class="t c" style="left:3791px;top:78px;">
<p class="ni">Therefore FeSe provides a rare opportunity to study Hubbard-band physics in a significantly correlated, metallic, multiorbital system. The unique properties of FeSe continue to provide theoretical challenges, but we have demonstrated that the DFT+DMFT technique captures the essential features of the high-energy spectral function well, highlighting the importance of local Coulomb interactions and Hund’s coupling for both low and high energy features in Fe-based superconductors.</p>
<div style="margin-top:44px;text-align:center;font-weight:bold;font-size:13.5px;">ACKNOWLEDGMENTS</div>
<p style="margin-top:20px;">We thank S. Biermann, B. Büchner, D. Guterding, H. Iwasawa, H. O. Jeschke and L. C. Rhodes for useful discussions. We acknowledge Diamond Light Source for time on beamline I05 under proposals CM12153, SI10203. S.B. and R.V thank the Deutsche Forschungsgemeinschaft (DFG) for financial support through grant SPP 1458. Part of the work was supported by the EPSRC (EP/L001772/1,EP/I004475/1,EP/I017836/1). A.A.H. acknowledges the financial support of the Oxford Quantum Materials Platform Grant (EP/M020517/1). A.I.C. acknowledges an EPSRC Career Acceleration Fellowship (Grant No. EP/I004475/1).</p>
<div style="margin:34px 0 0 132px;width:108px;height:1.5px;background:#111;"></div>
<div class="ref" style="position:relative;margin-top:24px;width:373px;">
<p>&nbsp;&nbsp;&nbsp;&nbsp;<sup style="font-size:8px">*</sup> corresponding author:<a>matthew.watson@diamond.ac.uk</a></p>
<p>[1] M. D. Johannes and I. I. Mazin, “Microscopic origin of magnetism and magnetic interactions in ferropnictides,” <a>Phys. Rev. B <b>79</b>, 220510(R) (2009)</a>.</p>
<p>[2] K. Haule and G. Kotliar, “Coherence-incoherence crossover in the normal state of iron oxypnictides and importance of Hund’s rule coupling,” <a>New J. Phys. <b>11</b>, 025021 (2009)</a>.</p>
<p>[3] Markus Aichhorn, Leonid Pourovskii, Veronica Vildosola, Michel Ferrero, Olivier Parcollet, Takashi Miyake, Antoine Georges, and Silke Biermann, “Dynamical mean-field theory within an augmented plane-wave framework: Assessing electronic correlations in the iron pnictide LaFeAsO,” <a>Phys. Rev. B <b>80</b>, 085101 (2009)</a>.</p>
<p>[4] Luca de’ Medici, Jernej Mravlje, and Antoine Georges, “Janus-Faced Influence of Hund’s Rule Coupling in Strongly Correlated Materials,” <a>Phys. Rev. Lett. <b>107</b>, 256401 (2011)</a>.</p>
<p>[5] Z P Yin, K Haule, and G Kotliar, “Kinetic frustration and the nature of the magnetic and paramagnetic states in iron pnictides and iron chalcogenides.” <a>Nat. Mater. <b>10</b>, 932–5 (2011)</a>.</p>
<p>[6] Rong Yu and Qimiao Si, “Mott transition in multiorbital models for iron pnictides,” <a>Phys. Rev. B <b>84</b>, 235115 (2011)</a>.</p>
<p>[7] Johannes Ferber, Kateryna Foyevtsova, Roser Valentí, and Harald O. Jeschke, “LDA + DMFT study of the effects of correlation in LiFeAs,” <a>Phys. Rev. B <b>85</b>, 094505 (2012)</a>.</p>
<p>[8] Johannes Ferber, Harald O. Jeschke, and Roser Valentí, “Fermi Surface Topology of LaFePO and LiFeP,” <a>Phys. Rev. Lett. <b>109</b>, 236403 (2012)</a>.</p>
<p>[9] Antoine Georges, Luca de’ Medici, and Jernej Mravlje, “Strong Correlations from Hunds Coupling,” <a>Annual Review of Condensed Matter Physics <b>4</b>, 137–178 (2013)</a>.</p>
<p>[10] Steffen Backes, Harald O. Jeschke, and Roser Valentí,</p>
</div>
</div>
<div class="ref" style="left:4189px;top:80px;">
<p>&nbsp;&nbsp;&nbsp;&nbsp;&nbsp;&nbsp;&nbsp;“Microscopic nature of correlations in multiorbital AFe2As2 (A=K,Rb,Cs): Hund’s coupling versus Coulomb repulsion,” <a>Phys. Rev. B <b>92</b>, 195128 (2015)</a>.</p>
<p>[11] L. Fanfarillo and E. Bascones, “Electronic correlations in Hund metals,” <a>Phys. Rev. B <b>92</b>, 075136 (2015)</a>.</p>
<p>[12] F. Hardy, A. E. Böhmer, L. de’ Medici, M. Capone, G. Giovannetti, R. Eder, L. Wang, M. He, T. Wolf, P. Schweiss, R. Heid, A. Herbig, P. Adelmann, R. A. Fisher, and C. Meingast, “Strong correlations, strong coupling, and s-wave superconductivity in hole-doped BaFe<sub style="font-size:8px">2</sub>As<sub style="font-size:8px">2</sub> single crystals,” <a>Phys. Rev. B <b>94</b>, 205113 (2016)</a>.</p>
<p>[13] C. Putzke, A. I. Coldea, I. Guillamón, D. Vignolles, A. McCollam, D. LeBoeuf, M. D. Watson, I. I. Mazin, S. Kasahara, T. Terashima, T. Shibauchi, Y. Matsuda, and A. Carrington, “de Haas-van Alphen Study of the Fermi Surfaces of Superconducting LiFeP and LiFeAs,” <a>Phys. Rev. Lett. <b>108</b>, 047002 (2012)</a>.</p>
<p>[14] S. V. Borisenko, V. B. Zabolotnyy, D. V. Evtushinsky, T. K. Kim, I. V. Morozov, A. N. Yaresko, A. A. Kordyuk, G. Behr, A. Vasiliev, R. Follath, and B. Büchner, “Superconductivity without nesting in lifeas,” <a>Phys. Rev. Lett. <b>105</b>, 067002 (2010)</a>.</p>
<p>[15] D. V. Evtushinsky, A. N. Yaresko, V. B. Zabolotnyy, J. Maletz, T. K. Kim, A. A. Kordyuk, M. S. Viazovska, M. Roslova, I. Morozov, R. Beck, S. Wurmehl, H. Berger, B. Büchner, and S. V. Borisenko, “Anomalous High-Energy Electronic Interaction in Iron-Based Superconductor,” <a>arXiv: 1409.1537 (2014)</a>.</p>
<p>[16] J. Maletz, V. B. Zabolotnyy, D. V. Evtushinsky, S. Thirupathaiah, A. U. B. Wolter, L. Harnagea, A. N. Yaresko, A. N. Vasiliev, D. A. Chareev, A. E. Böhmer, F. Hardy, T. Wolf, C. Meingast, E. D. L. Rienks, B. Büchner, and S. V. Borisenko, “Unusual band renormalization in the simplest iron-based superconductor FeSe,” <a>Phys. Rev. B <b>89</b>, 220506 (2014)</a>.</p>
<p>[17] Riccardo Comin and Andrea Damascelli, “ARPES: A probe of electronic correlations,” <a>arXiv:1303.1438 (2013)</a>.</p>
<p>[18] I A Nekrasov, N S Pavlov, and M V Sadovskii, “Electronic structure of NaFeAs superconductor: LDA+DMFT calculations compared to the ARPES experiment,” <a>JETP Lett. <b>102</b>, 26–31 (2015)</a>.</p>
<p>[19] A. E. Böhmer, T Arai, F Hardy, T Hattori, T Iye, T Wolf, H. v. Löhneysen, K Ishida, and C Meingast, “Origin of the Tetragonal-to-Orthorhombic Phase Transition in FeSe: A Combined Thermodynamic and NMR Study of Nematicity,” <a>Phys. Rev. Lett. <b>114</b>, 027001 (2015)</a>.</p>
<p>[20] M. D. Watson, T. K. Kim, A. A. Haghighirad, N. R. Davies, A. McCollam, A. Narayanan, S. F. Blake, Y. L. Chen, S. Ghannadzadeh, A. J. Schofield, M. Hoesch, C. Meingast, T. Wolf, and A. I. Coldea, “Emergence of the nematic electronic state in FeSe,” <a>Phys. Rev. B <b>91</b>, 155106 (2015)</a>.</p>
<p>[21] Shiyong Tan, Yan Zhang, Miao Xia, Zirong Ye, Fei Chen, Xin Xie, Rui Peng, Difei Xu, Qin Fan, Haichao Xu, Juan Jiang, Tong Zhang, Xinchun Lai, Tao Xiang, Jiangping Hu, Binping Xie, and Donglai Feng, “Interface-induced superconductivity and strain-dependent spin density waves in FeSe/SrTiO3 thin films.” <a>Nat. Mater. <b>12</b>, 634–40 (2013)</a>.</p>
<p>[22] P Zhang, T Qian, P Richard, X P Wang, H Miao, B Q Lv, B B Fu, T Wolf, C Meingast, X X Wu, Z Q Wang, J P Hu, and H Ding, “Observation of two distinct <i>d<sub style="font-size:8px">xz</sub></i>/<i>d<sub style="font-size:8px">yz</sub></i> band splittings in FeSe,” <a>Phys. Rev. B <b>91</b>, 214503 (2015)</a>.</p>
<p>[23] Y. Suzuki, T. Shimojima, T. Sonobe, A. Nakamura, M. Sakano, H. Tsuji, J. Omachi, K. Yoshioka, M. Kuwata-Gonokami, T. Watashige, R. Kobayashi, S. Kasahara, T. Shibauchi, Y. Matsuda, Y. Yamakawa, H. Kontani, and K. Ishizaka, “Momentum-dependent sign-inversion of orbital polarization in superconducting FeSe,” <a>Phys. Rev. B <b>92</b>, 205117 (2015)</a>.</p>
<p>[24] M. D. Watson, T. K. Kim, A. A. Haghighirad, S. F. Blake, N. R.</p>
</div>

</div>
<script>
// ---- Fig 1f: integrated intensity vs binding energy ----
const f1fEnergy = [-0.1, 0.0, 0.02, 0.1, 0.3, 0.6, 0.8, 1.0, 1.4, 1.8, 2.0, 2.4, 2.8, 3.2, 3.5, 3.8, 4.3, 5.0, 6.0, 7.0];
const f1fIntensity = [0.02, 0.02, 0.5, 0.75, 1.0, 0.75, 0.63, 0.65, 0.8, 0.88, 0.88, 0.8, 0.68, 0.52, 0.63, 0.58, 0.45, 0.38, 0.33, 0.28];
// ---- Fig 3a: integrated spectral weight ----
const f3aDmftEnergy = [6.5, 6.0, 5.8, 5.5, 5.2, 5.0, 4.8, 4.5, 4.0, 3.5, 3.2, 3.0, 2.8, 2.5, 2.2, 2.0, 1.8, 1.5, 1.0, 0.5, 0.2, 0.1, 0.0, -0.2, -0.5, -0.8, -1.0, -1.5, -2.0, -2.2, -2.5];
const f3aDmft = [0.5, 0.5, 0.5, 2.0, 4.5, 5.0, 3.5, 1.5, 2.5, 4.5, 8.0, 6.0, 3.0, 2.0, 2.5, 3.0, 2.8, 2.2, 3.5, 5.5, 8.0, 6.0, 3.0, 3.5, 5.3, 5.0, 4.5, 3.0, 1.0, 0.5, 0.3];
const f3aDftEnergy = [6.5, 5.8, 5.5, 5.3, 5.1, 4.8, 4.4, 3.9, 3.8, 3.6, 3.5, 3.3, 3.1, 2.8, 2.6, 2.4, 2.2, 1.8, 1.6, 1.4, 1.2, 1.0, 0.9, 0.7, 0.5, 0.4, 0.3, 0.2, 0.0, -0.2, -0.5, -0.7, -0.9, -1.1, -1.3, -1.6, -1.9, -2.1, -2.5];
const f3aDft = [0.3, 0.3, 4.0, 7.5, 4.0, 1.0, 2.0, 3.5, 6.0, 7.5, 6.5, 11.5, 5.0, 1.0, 0.0, 0.0, 1.5, 2.0, 5.0, 7.0, 5.0, 8.5, 6.0, 8.0, 11.5, 8.0, 9.0, 7.0, 2.0, 2.5, 4.0, 7.5, 6.5, 7.5, 5.0, 3.0, 1.0, 0.0, 0.0];
const f3aTicksX = [6, 5, 4, 3, 2, 1, 0, -1, -2];
const f3aTicksY = [0, 2, 4, 6, 8, 10, 12, 14];
// ---- Fig 3b: total intensity ----
const f3bEnergy = [6.5, 5.0, 4.0, 3.5, 3.2, 2.5, 2.0, 1.5, 1.0, 0.5, 0.2, 0.12, 0.05, 0.0, -0.5];
const f3bIntensity = [0.55, 0.65, 0.8, 0.9, 0.88, 1.1, 1.2, 1.1, 0.98, 1.05, 2.0, 2.8, 1.5, 0.05, 0.05];
const f3bTicksY = [1, 2];
// ---- Fig 3c: orbital-resolved DMFT spectral weight ----
const f3cOmega = [-3, -2.5, -2, -1.5, -1, -0.6, -0.3, -0.1, 0, 0.3, 0.6, 1, 1.5, 2];
const f3cDz2 = [0.05, 0.2, 0.28, 0.25, 0.5, 1.0, 1.45, 0.6, 0.05, 0.3, 0.45, 0.3, 0.15, 0.05];
const f3cDxy = [0.2, 0.15, 0.15, 0.15, 0.2, 0.4, 1.4, 0.8, 0.7, 0.3, 0.45, 0.3, 0.15, 0.1];
const f3cDx2y2 = [0.15, 0.35, 0.3, 0.4, 0.6, 0.4, 0.25, 0.15, 0.05, 0.3, 0.55, 0.3, 0.15, 0.05];
const f3cDxzyz = [0.12, 0.15, 0.15, 0.2, 0.3, 0.5, 0.45, 0.95, 0.2, 0.3, 0.35, 0.3, 0.2, 0.1];
const f3cDftDz2 = [0, 0, 0.1, 0.5, 1.3, 1.35, 1.2, 0.2, 0, 0.2, 0.5, 0.8, 0.2, 0];
const f3cLabels = ["3dz²", "3dxy", "3dx²-y²", "3dxz/yz"];
const f3cTicksX = [-3, -2, -1, 0, 1, 2];

const NS = "http://www.w3.org/2000/svg";
function mk(tag, attrs, parent){ const e = document.createElementNS(NS, tag); for (const k in attrs) e.setAttribute(k, attrs[k]); parent.appendChild(e); return e; }
function pathFrom(xs, ys, sx, sy){ return xs.map((v,i)=>(i?"L":"M")+sx(v).toFixed(1)+","+sy(ys[i]).toFixed(1)).join(""); }

(function(){
  const g = document.getElementById("f1f");
  const sx = v => 1623 + v*128, sy = e => 538 + e*25.1;
  const p = mk("path", {d: pathFrom(f1fIntensity, f1fEnergy, sx, sy), fill:"none", stroke:"#2a50b0", "stroke-width":"1.4"}, g);
  
  
})();

(function(){
  const g = document.getElementById("f3a");
  const sx = e => 2902 + (6.5 - e) * (205/9), sy = v => 231 - v * (146/14);
  mk("line", {x1:sx(0), y1:85, x2:sx(0), y2:231, stroke:"#555", "stroke-width":"0.7"}, g);
  const d = mk("path", {d: pathFrom(f3aDftEnergy, f3aDft, sx, sy), fill:"none", stroke:"#777", "stroke-width":"0.9", "stroke-dasharray":"1.5,1.5"}, g);
  
  
  const m = mk("path", {d: pathFrom(f3aDmftEnergy, f3aDmft, sx, sy), fill:"none", stroke:"#d83030", "stroke-width":"1.5"}, g);
  
  
  f3aTicksY.forEach(v => { const t = mk("text", {x:2897, y:sy(v)+4, "font-size":"10", "text-anchor":"end"}, g); t.textContent = v;
      });
  f3aTicksX.forEach(v => { const t = mk("text", {x:sx(v), y:352, "font-size":"10", "text-anchor":"middle"}, g); t.textContent = v < 0 ? "−"+(-v) : v;
      });
})();

(function(){
  const g = document.getElementById("f3b");
  const sx = e => 2902 + (6.5 - e) * (205/9), sy = v => 236 + v * 35;
  const xs = f3bEnergy.map(sx), ys = f3bIntensity.map(sy);
  let d = "M" + xs[0] + ",236";
  xs.forEach((x,i)=> d += "L" + x.toFixed(1) + "," + ys[i].toFixed(1));
  d += "L" + xs[xs.length-1] + ",236Z";
  mk("path", {d: d, fill:"#cfd0d4", stroke:"none"}, g);
  mk("line", {x1:sx(2), y1:236, x2:sx(2), y2:290, stroke:"#777", "stroke-dasharray":"3,2"}, g);
  const l = mk("path", {d: pathFrom(f3bEnergy, f3bIntensity, sx, sy), fill:"none", stroke:"#5a2a9a", "stroke-width":"1.3"}, g);
  
  
  f3bTicksY.forEach(v => { const t = mk("text", {x:2897, y:sy(v)+4, "font-size":"10", "text-anchor":"end"}, g); t.textContent = v;
      });
})();

(function(){
  const g = document.getElementById("f3c");
  const rows = [[85,146],[150,212],[215,277],[281,342]];
  const series = [f3cDz2, f3cDxy, f3cDx2y2, f3cDxzyz];
  const colors = ["#2aa0d8", "#d82a3a", "#f0b020", "#1a2a6a"];
  const sx = w => 3136 + (w + 3) * (97/5);
  rows.forEach((r, i) => {
    const sy = v => r[1] - v * ((r[1]-r[0]) / 1.9);
    mk("rect", {x:3136, y:r[0], width:97, height:r[1]-r[0], fill:"#fff", stroke:"#555", "stroke-width":"0.7"}, g);
    mk("line", {x1:sx(0), y1:r[0], x2:sx(0), y2:r[1], stroke:"#555", "stroke-width":"0.6"}, g);
    if (i === 0) mk("path", {d: pathFrom(f3cOmega, f3cDftDz2, sx, sy), fill:"none", stroke:"#777", "stroke-width":"0.8", "stroke-dasharray":"1.5,1.5"}, g);
    const p = mk("path", {d: pathFrom(f3cOmega, series[i], sx, sy), fill:"none", stroke:colors[i], "stroke-width":"1.4"}, g);
    
    
    mk("rect", {x:3140, y:r[0]+3, width:40, height:18, fill:"#fff", stroke:"#555", "stroke-width":"0.5"}, g);
    const t1 = mk("text", {x:3160, y:r[0]+11, "font-size":"7"}, g); t1.textContent = "DFT";
    const t2 = mk("text", {x:3158, y:r[0]+19, "font-size":"7"}, g); t2.textContent = "DMFT";
    mk("line", {x1:3143, y1:r[0]+16, x2:3155, y2:r[0]+16, stroke:colors[i], "stroke-width":"1.4"}, g);
    const lb = mk("text", {x:3212, y:r[0]+14, "font-size":"8", "font-style":"italic", "text-anchor":"middle"}, g); lb.textContent = f3cLabels[i];
    
    
    [0, 0.5, 1, 1.5].forEach(v => { const t = mk("text", {x:3133, y:sy(v)+3, "font-size":"7", "text-anchor":"end"}, g); t.textContent = v; });
    const ya = mk("text", {transform:"translate(3114,"+((r[0]+r[1])/2)+") rotate(-90)", "font-size":"8", "text-anchor":"middle"}, g); ya.textContent = "A(ω)";
  });
  f3cTicksX.forEach(v => { const t = mk("text", {x:sx(v), y:352, "font-size":"8", "text-anchor":"middle"}, g); t.textContent = v < 0 ? "−"+(-v) : v;
      });
})();
</script>
</body></html>
